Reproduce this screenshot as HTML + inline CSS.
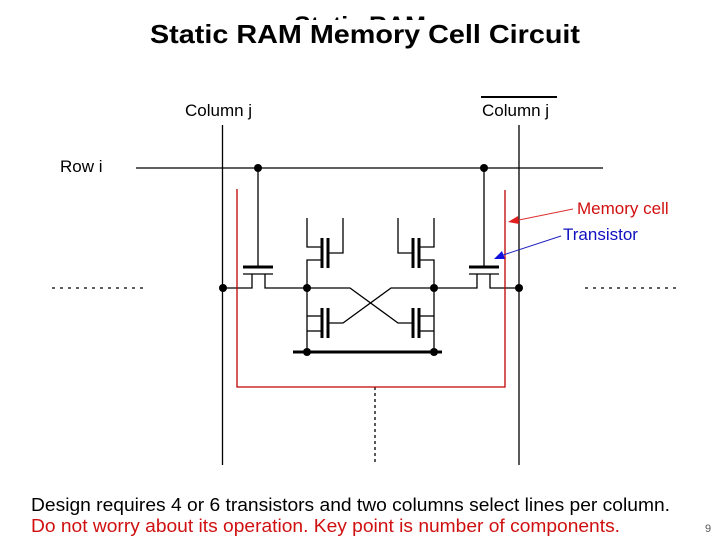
<!DOCTYPE html>
<html><head><style>body{margin:0;background:#fff}svg{display:block}</style></head><body>
<svg width="720" height="540" viewBox="0 0 720 540" xmlns="http://www.w3.org/2000/svg" font-family="Liberation Sans, Arial, sans-serif">
<defs><clipPath id="c"><rect x="0" y="11" width="720" height="9"/></clipPath></defs>
<text x="360" y="34" text-anchor="middle" font-size="25" font-weight="bold" clip-path="url(#c)">Static RAM</text>
<text x="150" y="43" font-size="26" font-weight="bold" textLength="430" lengthAdjust="spacingAndGlyphs">Static RAM Memory Cell Circuit</text>
<text x="185" y="116" font-size="17">Column j</text>
<text x="482" y="116" font-size="17">Column j</text>
<line x1="481" y1="97" x2="557" y2="97" stroke="#000" stroke-width="2"/>
<text x="60" y="172" font-size="17">Row i</text>
<g stroke="#000" stroke-width="1.3" fill="none">
<line x1="136" y1="168" x2="603" y2="168"/>
<line x1="222.5" y1="125" x2="222.5" y2="465"/>
<line x1="519" y1="125" x2="519" y2="465"/>
<line x1="52" y1="288" x2="145" y2="288" stroke-dasharray="3,5"/>
<line x1="585" y1="288" x2="680" y2="288" stroke-dasharray="3,5"/>
<line x1="375" y1="387" x2="375" y2="465" stroke-dasharray="3,3"/>
<line x1="258" y1="168" x2="258" y2="267"/>
<line x1="484" y1="168" x2="484" y2="267"/>
<line x1="243" y1="274" x2="273" y2="274"/>
<line x1="469" y1="274" x2="499" y2="274"/>
<polyline points="223,288 252,288 252,274"/>
<polyline points="265,274 265,288 307,288"/>
<polyline points="519,288 490,288 490,274"/>
<polyline points="477,274 477,288 434,288"/>
<polyline points="307,218 307,247 322,247"/>
<polyline points="322,260 307,260 307,352"/>
<polyline points="343,218 343,253 328,253"/>
<polyline points="434,218 434,247 419,247"/>
<polyline points="419,260 434,260 434,352"/>
<polyline points="398,218 398,253 413,253"/>
<polyline points="307,316 322,316"/>
<polyline points="307,331 322,331"/>
<polyline points="434,316 419,316"/>
<polyline points="434,331 419,331"/>
<polyline points="328,323 343,323 391,288 434,288"/>
<polyline points="413,323 398,323 350,288 307,288"/>
</g>
<g stroke="#000" stroke-width="3">
<line x1="243" y1="267" x2="273" y2="267"/>
<line x1="469" y1="267" x2="499" y2="267"/>
<line x1="322" y1="238" x2="322" y2="268"/><line x1="328" y1="238" x2="328" y2="268"/>
<line x1="419" y1="238" x2="419" y2="268"/><line x1="413" y1="238" x2="413" y2="268"/>
<line x1="322" y1="308" x2="322" y2="338"/><line x1="328" y1="308" x2="328" y2="338"/>
<line x1="419" y1="308" x2="419" y2="338"/><line x1="413" y1="308" x2="413" y2="338"/>
<line x1="293" y1="352" x2="442" y2="352"/>
</g>
<g fill="#000">
<circle cx="258" cy="168" r="4"/><circle cx="484" cy="168" r="4"/>
<circle cx="223" cy="288" r="4"/><circle cx="519" cy="288" r="4"/>
<circle cx="307" cy="288" r="4"/><circle cx="434" cy="288" r="4"/>
<circle cx="307" cy="352" r="4"/><circle cx="434" cy="352" r="4"/>
</g>
<polyline points="237,189 237,387 505,387 505,190" fill="none" stroke="#c00000" stroke-width="1.3"/>
<line x1="573" y1="209" x2="514" y2="221" stroke="#e03030" stroke-width="1"/>
<polygon points="508,222 518,216 519,224" fill="#e02020"/>
<line x1="561" y1="236" x2="500" y2="256" stroke="#2020c0" stroke-width="1"/>
<polygon points="494,259 502,251 505,259" fill="#1010e0"/>
<text x="577" y="214" font-size="17" fill="#d01010">Memory cell</text>
<text x="563" y="240" font-size="17" fill="#1010c0">Transistor</text>
<text x="31" y="511" font-size="18" textLength="639" lengthAdjust="spacingAndGlyphs">Design requires 4 or 6 transistors and two columns select lines per column.</text>
<text x="31" y="532" font-size="18" fill="#d01010" textLength="589" lengthAdjust="spacingAndGlyphs">Do not worry about its operation. Key point is number of components.</text>
<text x="705" y="532" font-size="11" fill="#555">9</text>
</svg>
</body></html>
